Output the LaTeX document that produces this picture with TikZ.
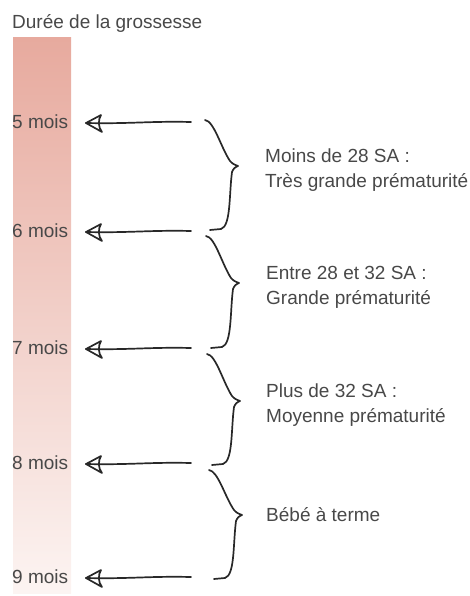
\documentclass[tikz,border=0pt]{standalone}
\usepackage{fontspec}
\setmainfont{Liberation Sans}
\definecolor{barTop}{RGB}{231,170,158}
\definecolor{barBot}{RGB}{252,244,242}
\definecolor{txt}{RGB}{72,72,72}
\definecolor{ink}{RGB}{40,40,40}
\newcommand\handbrace[4]{%
  \draw[pen] (#1-33,#2-#3) .. controls (#1-24,#2-#3+1) and (#1-17,#2-#3*0.4) .. (#1-8,#2-5)
    .. controls (#1-5,#2-2) .. (#1,#2)
    .. controls (#1-4,#2+2) .. (#1-6,#2+6)
    .. controls (#1-9,#2+#4*0.45) and (#1-7,#2+#4-3) .. (#1-17,#2+#4)
    -- (#1-28,#2+#4+1);}
\begin{document}
\begin{tikzpicture}[x=1pt,y=-1pt,
  pen/.style={draw=ink,line width=1.7pt,line cap=round,line join=round},
  lbl/.style={inner sep=0pt,text=txt,font=\fontsize{19}{25}\selectfont},
  mlabel/.style={lbl,anchor=west},
  desc/.style={lbl,anchor=west,align=left}]
\useasboundingbox (0,0) rectangle (470,596);
\shade[top color=barTop,bottom color=barBot] (13,38) rectangle (71,593);
\node[lbl,anchor=base west] (title) at (12,29) {Durée de la grossesse};
\foreach \n/\y in {5/122,6/231,7/348,8/463,9/577}{
  \node[mlabel] (m\n) at (12,\y) {\n\ mois};
  \coordinate (s\n) at (191,\y);
  \coordinate (t\n) at (86,\y+1);
  \draw[pen] (s\n) .. controls (150,\y-1) and (130,\y+2) .. (t\n);
  \draw[pen] (t\n) -- (101,\y-7) .. controls (98,\y-2) and (98,\y+5) .. (102,\y+10) -- cycle;
}
\handbrace{238}{166}{46}{63}
\handbrace{239}{283}{47}{64}
\handbrace{240}{401}{47}{63}
\handbrace{242}{515}{45}{63}
\node[desc] (d1) at (265,170) {Moins de 28 SA :\\Très grande prématurité};
\node[desc] (d2) at (266,287) {Entre 28 et 32 SA :\\Grande prématurité};
\node[desc] (d3) at (266,405) {Plus de 32 SA :\\Moyenne prématurité};
\node[desc] (d4) at (266,515) {Bébé à terme};
\end{tikzpicture}
\end{document}
